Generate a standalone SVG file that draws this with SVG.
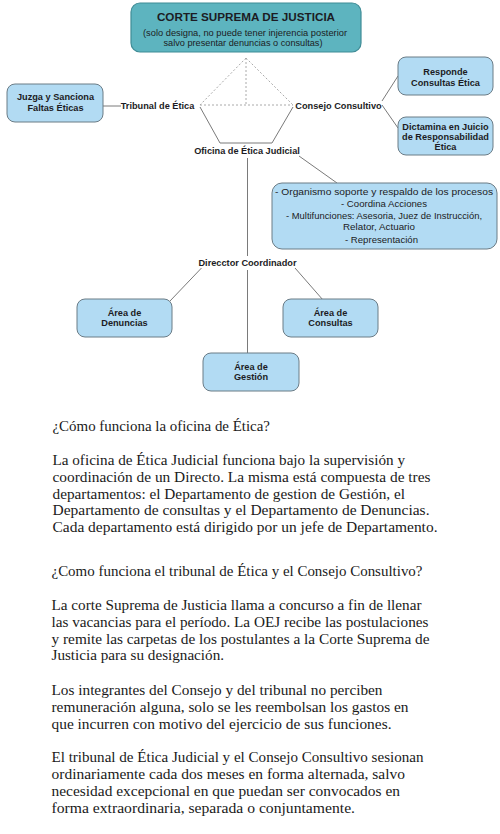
<svg xmlns="http://www.w3.org/2000/svg" width="500" height="834" viewBox="0 0 500 834">
<style>
.box{fill:#b2dbf3;stroke:#6b7c86;stroke-width:1}
.top{fill:#5db4bf;stroke:#3f8c96;stroke-width:1.2}
.lbl{font-family:"Liberation Sans",Arial,sans-serif;font-weight:bold;font-size:9.2px;fill:#1c1c24;text-anchor:middle}
.reg{font-family:"Liberation Sans",Arial,sans-serif;font-size:9.4px;fill:#1c1c24;text-anchor:middle}
.ln{stroke:#7a7a7a;stroke-width:1;fill:none}
.dot{stroke:#aaaaaa;stroke-width:1;stroke-dasharray:2,2;fill:none}
.p{font-family:"Liberation Serif","Times New Roman",serif;font-size:15px;fill:#1a1a1a}
</style>
<rect width="500" height="834" fill="#ffffff"/>
<g id="connectors">
<line class="dot" x1="246" y1="58" x2="200" y2="105"/>
<line class="dot" x1="246" y1="58" x2="293" y2="105"/>
<line class="dot" x1="200" y1="105" x2="293" y2="105"/>
<line class="dot" x1="246" y1="58" x2="246" y2="104"/>
<polyline class="ln" points="200,107 220,143 272,143 293,107"/>
<line class="ln" x1="103" y1="106" x2="121" y2="106"/>
<line class="ln" x1="382" y1="101" x2="398" y2="76"/>
<line class="ln" x1="382" y1="105" x2="398" y2="128"/>
<line class="ln" x1="299" y1="156" x2="337" y2="183"/>
<line class="ln" x1="247.5" y1="158" x2="247.5" y2="256"/>
<line class="ln" x1="201.5" y1="268" x2="170" y2="301"/>
<line class="ln" x1="295" y1="268" x2="323" y2="300"/>
<line class="ln" x1="247.5" y1="270" x2="247.5" y2="353"/>
</g>
<g id="corte">
<rect class="top" x="131" y="3" width="230" height="49" rx="9"/>
<text class="lbl" x="246" y="21" style="font-size:11.7px">CORTE SUPREMA DE JUSTICIA</text>
<text class="reg" x="245" y="36" style="font-size:9.3px" textLength="204" lengthAdjust="spacingAndGlyphs">(solo designa, no puede tener injerencia posterior</text>
<text class="reg" x="243" y="46" style="font-size:9.3px" textLength="159" lengthAdjust="spacingAndGlyphs">salvo presentar denuncias o consultas)</text>
</g>
<g id="juzga">
<rect class="box" x="7" y="84" width="96" height="38" rx="8"/>
<text class="lbl" x="55.5" y="100">Juzga y Sanciona</text>
<text class="lbl" x="55.5" y="111">Faltas Éticas</text>
</g>
<g id="tribunal"><text class="lbl" x="157.5" y="108.5">Tribunal de Ética</text></g>
<g id="consejo"><text class="lbl" x="338.5" y="108.5">Consejo Consultivo</text></g>
<g id="responde">
<rect class="box" x="398" y="57" width="95" height="38" rx="8"/>
<text class="lbl" x="445.5" y="75">Responde</text>
<text class="lbl" x="445.5" y="86">Consultas Ética</text>
</g>
<g id="dictamina">
<rect class="box" x="398" y="117" width="95" height="38" rx="8"/>
<text class="lbl" x="445.5" y="130">Dictamina en Juicio</text>
<text class="lbl" x="445.5" y="140">de Responsabilidad</text>
<text class="lbl" x="445.5" y="150">Ética</text>
</g>
<g id="oficina"><text class="lbl" x="247" y="154">Oficina de Ética Judicial</text></g>
<g id="organismo">
<rect class="box" x="272" y="183" width="225" height="66" rx="10"/>
<text class="reg" x="384" y="194.5" textLength="218" lengthAdjust="spacingAndGlyphs">- Organismo soporte y respaldo de los procesos</text>
<text class="reg" x="384" y="207" textLength="86" lengthAdjust="spacingAndGlyphs">- Coordina Acciones</text>
<text class="reg" x="384" y="218.5" textLength="196" lengthAdjust="spacingAndGlyphs">- Multifunciones: Asesoria, Juez de Instrucción,</text>
<text class="reg" x="379" y="229.5" textLength="72" lengthAdjust="spacingAndGlyphs">Relator, Actuario</text>
<text class="reg" x="381.5" y="243" textLength="73" lengthAdjust="spacingAndGlyphs">- Representación</text>
</g>
<g id="director"><text class="lbl" x="247.5" y="266">Direcctor Coordinador</text></g>
<g id="denuncias">
<rect class="box" x="77" y="299" width="95" height="38" rx="8"/>
<text class="lbl" x="124.5" y="315.5">Área de</text>
<text class="lbl" x="124.5" y="326">Denuncias</text>
</g>
<g id="consultas">
<rect class="box" x="283" y="299" width="95" height="38" rx="8"/>
<text class="lbl" x="330.5" y="315.5">Área de</text>
<text class="lbl" x="330.5" y="326">Consultas</text>
</g>
<g id="gestion">
<rect class="box" x="203" y="353" width="96" height="38" rx="8"/>
<text class="lbl" x="251" y="369.5">Área de</text>
<text class="lbl" x="251" y="380">Gestión</text>
</g>
<g id="texto">
<text class="p" x="52.5" y="431" textLength="217.5" lengthAdjust="spacingAndGlyphs">¿Cómo funciona la oficina de Ética?</text>
<text class="p" x="52.5" y="465" textLength="352.5" lengthAdjust="spacingAndGlyphs">La oficina de Ética Judicial funciona bajo la supervisión y</text>
<text class="p" x="52.5" y="482" textLength="378" lengthAdjust="spacingAndGlyphs">coordinación de un Directo. La misma está compuesta de tres</text>
<text class="p" x="52.5" y="498.5" textLength="352.5" lengthAdjust="spacingAndGlyphs">departamentos: el Departamento de gestion de Gestión, el</text>
<text class="p" x="52.5" y="515" textLength="377" lengthAdjust="spacingAndGlyphs">Departamento de consultas y el Departamento de Denuncias.</text>
<text class="p" x="52.5" y="532" textLength="385" lengthAdjust="spacingAndGlyphs">Cada departamento está dirigido por un jefe de Departamento.</text>
<text class="p" x="51.5" y="576" textLength="371" lengthAdjust="spacingAndGlyphs">¿Como funciona el tribunal de Ética y el Consejo Consultivo?</text>
<text class="p" x="51.5" y="610" textLength="370" lengthAdjust="spacingAndGlyphs">La corte Suprema de Justicia llama a concurso a fin de llenar</text>
<text class="p" x="51.5" y="627" textLength="377" lengthAdjust="spacingAndGlyphs">las vacancias para el período. La OEJ recibe las postulaciones</text>
<text class="p" x="51.5" y="643.5" textLength="378" lengthAdjust="spacingAndGlyphs">y remite las carpetas de los postulantes a la Corte Suprema de</text>
<text class="p" x="51.5" y="660" textLength="172.5" lengthAdjust="spacingAndGlyphs">Justicia para su designación.</text>
<text class="p" x="51.5" y="694.5" textLength="331" lengthAdjust="spacingAndGlyphs">Los integrantes del Consejo y del tribunal no perciben</text>
<text class="p" x="51.5" y="711.5" textLength="357" lengthAdjust="spacingAndGlyphs">remuneración alguna, solo se les reembolsan los gastos en</text>
<text class="p" x="51.5" y="728.5" textLength="340" lengthAdjust="spacingAndGlyphs">que incurren con motivo del ejercicio de sus funciones.</text>
<text class="p" x="51.5" y="762" textLength="372" lengthAdjust="spacingAndGlyphs">El tribunal de Ética Judicial y el Consejo Consultivo sesionan</text>
<text class="p" x="51.5" y="779" textLength="353.5" lengthAdjust="spacingAndGlyphs">ordinariamente cada dos meses en forma alternada, salvo</text>
<text class="p" x="51.5" y="796" textLength="348.5" lengthAdjust="spacingAndGlyphs">necesidad excepcional en que puedan ser convocados en</text>
<text class="p" x="51.5" y="812.5" textLength="303.5" lengthAdjust="spacingAndGlyphs">forma extraordinaria, separada o conjuntamente.</text>
</g>
</svg>
